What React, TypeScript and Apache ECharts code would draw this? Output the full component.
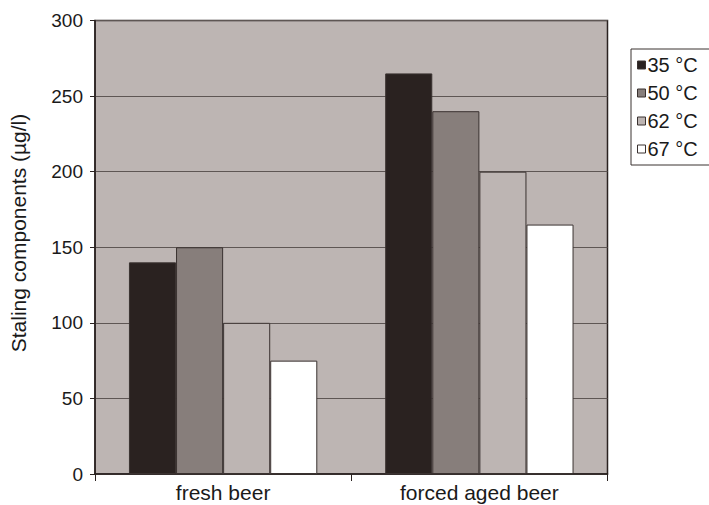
import React, { useEffect, useRef } from "react";
import * as echarts from "echarts";

const categories = ["fresh beer", "forced aged beer"];
const seriesNames = ["35 °C", "50 °C", "62 °C", "67 °C"];
const values35 = [140, 265];
const values50 = [150, 240];
const values62 = [100, 200];
const values67 = [75, 165];
const yTicks = [0, 50, 100, 150, 200, 250, 300];

const colors = ["#2a2220", "#877e7b", "#bdb5b3", "#ffffff"];
const FONT = "'Liberation Sans', Arial, sans-serif";

export default function App() {
  const ref = useRef<HTMLDivElement>(null);
  useEffect(() => {
    if (!ref.current) return;
    const chart = echarts.init(ref.current, null, { renderer: "svg" });
    const data = [values35, values50, values62, values67];
    chart.setOption({
      animation: false,
      backgroundColor: "#ffffff",
      textStyle: { fontFamily: FONT },
      grid: {
        left: 95,
        right: 101.5,
        top: 20.5,
        bottom: 31,
        show: true,
        backgroundColor: "#bdb5b3",
        borderColor: "#2a2220",
        borderWidth: 1.5,
        containLabel: false,
      },
      legend: {
        left: 631,
        top: 49,
        orient: "vertical",
        itemWidth: 8,
        itemHeight: 8,
        itemGap: 8,
        padding: [6, 12, 6, 6],
        borderColor: "#3a3230",
        borderWidth: 1,
        backgroundColor: "#ffffff",
        icon: "rect",
        textStyle: { fontSize: 20, color: "#1a1a1a", fontFamily: FONT, padding: [0, 0, 0, -3] },
        data: seriesNames.map((n, i) => ({
          name: n,
          itemStyle: { color: colors[i], borderColor: "#3a3230", borderWidth: 1 },
        })),
      },
      xAxis: {
        type: "category",
        data: categories,
        axisLine: { show: true, lineStyle: { color: "#2a2220", width: 1.5 } },
        axisTick: { show: true, length: 7, lineStyle: { color: "#2a2220" } },
        axisLabel: { fontSize: 21, color: "#1a1a1a", margin: 8, fontFamily: FONT },
      },
      yAxis: {
        type: "value",
        min: 0,
        max: 300,
        interval: 50,
        axisLine: { show: true, lineStyle: { color: "#2a2220", width: 1.5 } },
        axisTick: { show: true, length: 5, lineStyle: { color: "#2a2220" } },
        axisLabel: {
          fontSize: 19,
          color: "#1a1a1a",
          margin: 12,
          fontFamily: FONT,
          formatter: (v: number) => (yTicks.includes(v) ? String(v) : ""),
        },
        splitLine: { show: true, lineStyle: { color: "#5e5654", width: 1 } },
      },
      graphic: [
        {
          type: "text",
          x: 18,
          y: 233,
          rotation: Math.PI / 2,
          style: {
            text: "Staling components (µg/l)",
            fontSize: 21,
            fontFamily: FONT,
            fill: "#1a1a1a",
            align: "center",
            verticalAlign: "middle",
          },
        },
      ],
      series: seriesNames.map((n, i) => ({
        name: n,
        type: "bar",
        data: data[i],
        barGap: "0%",
        barCategoryGap: "26.5%",
        itemStyle: { color: colors[i], borderColor: "#3a3230", borderWidth: 1 },
      })),
    });
    return () => chart.dispose();
  }, []);
  return (
    <div
      ref={ref}
      style={{ position: "absolute", left: 0, top: 0, width: 709, height: 505 }}
    />
  );
}
